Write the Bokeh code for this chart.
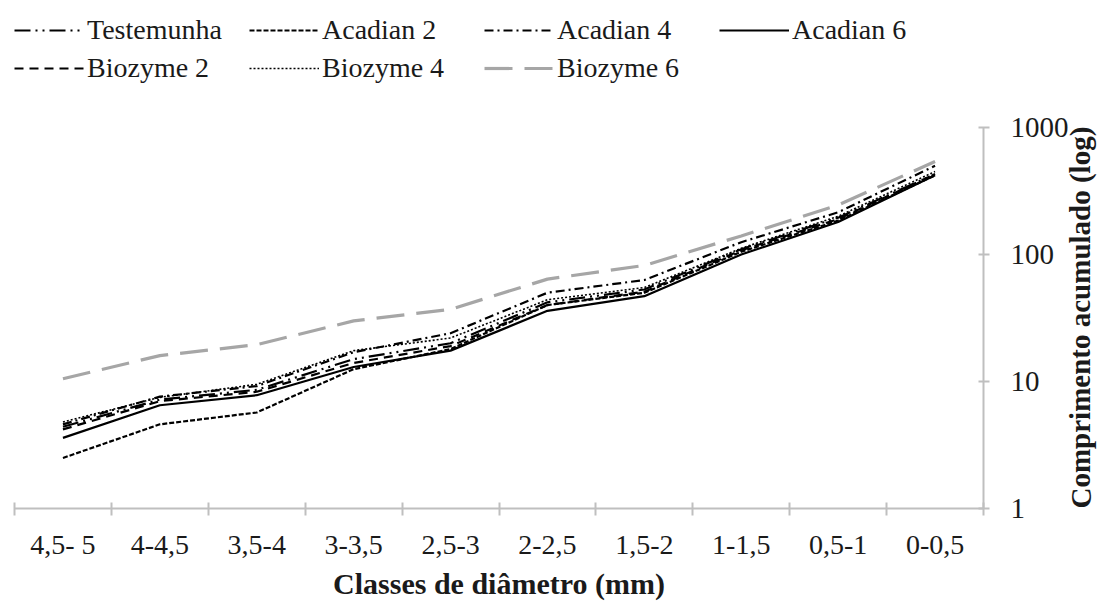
from bokeh.plotting import figure
from bokeh.models import (FactorRange, Range1d, LinearAxis, CategoricalAxis, FixedTicker,
                          Legend, LegendItem, ColumnDataSource, NumeralTickFormatter)
from bokeh.embed import file_html
from bokeh.resources import INLINE

categories = ["4,5- 5", "4-4,5", "3,5-4", "3-3,5", "2,5-3", "2-2,5", "1,5-2", "1-1,5", "0,5-1", "0-0,5"]
testemunha = [4.4, 7.2, 8.6, 15.0, 20.0, 42.0, 53.0, 110.0, 195.0, 430.0]
acadian_2 = [2.5, 4.6, 5.7, 12.5, 18.0, 40.0, 50.0, 105.0, 185.0, 420.0]
acadian_4 = [4.6, 7.6, 9.2, 17.0, 24.0, 50.0, 63.0, 125.0, 215.0, 500.0]
acadian_6 = [3.6, 6.5, 7.8, 13.0, 17.5, 36.0, 47.0, 100.0, 180.0, 420.0]
biozyme_2 = [4.2, 7.0, 8.3, 14.0, 19.0, 40.0, 51.0, 108.0, 190.0, 430.0]
biozyme_4 = [4.8, 7.5, 9.5, 17.5, 22.0, 44.0, 55.0, 112.0, 200.0, 450.0]
biozyme_6 = [10.5, 16.0, 19.5, 30.0, 37.0, 64.0, 82.0, 140.0, 245.0, 540.0]
y_ticks = [1, 10, 100, 1000]

FONT = "Liberation Serif"
TXT = "#1a1a1a"
AX = "#bfbfbf"

source = ColumnDataSource(dict(cat=categories, testemunha=testemunha, acadian_2=acadian_2,
                               acadian_4=acadian_4, acadian_6=acadian_6, biozyme_2=biozyme_2,
                               biozyme_4=biozyme_4, biozyme_6=biozyme_6))

# the frame reaches the top of the canvas so the legend can sit inside it;
# the visible axis is bounded to 1..1000
p = figure(width=1115, height=602, x_range=FactorRange(*categories), y_range=Range1d(1, 10000),
           y_axis_type="log", x_axis_location=None, y_axis_location="right",
           output_backend="svg", toolbar_location=None,
           min_border_left=14, min_border_right=130, min_border_top=0, min_border_bottom=94)
p.grid.visible = False
p.outline_line_color = None
p.background_fill_color = "white"

# tick marks at the class boundaries (synthetic coordinates of the factor range)
tick_axis = LinearAxis(ticker=FixedTicker(ticks=list(range(len(categories) + 1))),
                       major_label_text_font_size="0px", major_label_standoff=0,
                       axis_line_color=AX, axis_line_width=2, major_tick_line_color=AX,
                       major_tick_line_width=2, major_tick_in=6, major_tick_out=7,
                       minor_tick_line_color=None)
p.add_layout(tick_axis, "below")

cat_axis = CategoricalAxis(axis_line_color=None, major_tick_line_color=None,
                           major_label_text_font=FONT, major_label_text_font_size="28px",
                           major_label_text_color=TXT, major_label_standoff=7,
                           axis_label="Classes de diâmetro (mm)", axis_label_text_font=FONT,
                           axis_label_text_font_size="30px", axis_label_text_font_style="bold",
                           axis_label_text_color=TXT, axis_label_standoff=4)
p.add_layout(cat_axis, "below")

ya = p.yaxis[0]
ya.bounds = (y_ticks[0], y_ticks[-1])
ya.ticker = FixedTicker(ticks=y_ticks)
ya.formatter = NumeralTickFormatter(format="0")
ya.axis_line_color = AX
ya.axis_line_width = 2
ya.major_tick_line_color = AX
ya.major_tick_line_width = 2
ya.major_tick_in = 5
ya.major_tick_out = 6
ya.minor_tick_line_color = None
ya.major_label_text_font = FONT
ya.major_label_text_font_size = "29px"
ya.major_label_text_color = TXT
ya.major_label_standoff = 21
ya.axis_label = "Comprimento acumulado (log)"
ya.axis_label_text_font = FONT
ya.axis_label_text_font_size = "29px"
ya.axis_label_text_font_style = "bold"
ya.axis_label_text_color = TXT
ya.axis_label_standoff = 9
ya.axis_label_orientation = 1.5708
if "axis_label_align" in ya.properties():
    ya.axis_label_align = "start"

styles = [
    ("Testemunha", "testemunha", "#000000", 2.2, "16 5 2 5 2 5"),
    ("Acadian 2", "acadian_2", "#000000", 2.2, "5 2"),
    ("Acadian 4", "acadian_4", "#000000", 2.2, "9 4 2 4"),
    ("Acadian 6", "acadian_6", "#000000", 2.2, "solid"),
    ("Biozyme 2", "biozyme_2", "#000000", 2.2, "9 6"),
    ("Biozyme 4", "biozyme_4", "#000000", 1.6, "2 2"),
    ("Biozyme 6", "biozyme_6", "#a6a6a6", 3.2, "28 12"),
]
items = []
for label, col, color, w, dash in styles:
    r = p.line(x="cat", y=col, source=source, line_color=color, line_width=w, line_dash=dash)
    items.append(LegendItem(label=label, renderers=[r]))

legend = Legend(items=items, ncols=4, location=(0, 423), orientation="horizontal",
                label_text_font=FONT, label_text_font_size="28px", label_text_color=TXT,
                glyph_width=70, glyph_height=34, label_height=34, label_width=158,
                label_standoff=3, spacing=4, padding=0, margin=0,
                background_fill_alpha=0, border_line_color=None)
p.add_layout(legend, "center")

open("out.html", "w").write(file_html(p, INLINE))
